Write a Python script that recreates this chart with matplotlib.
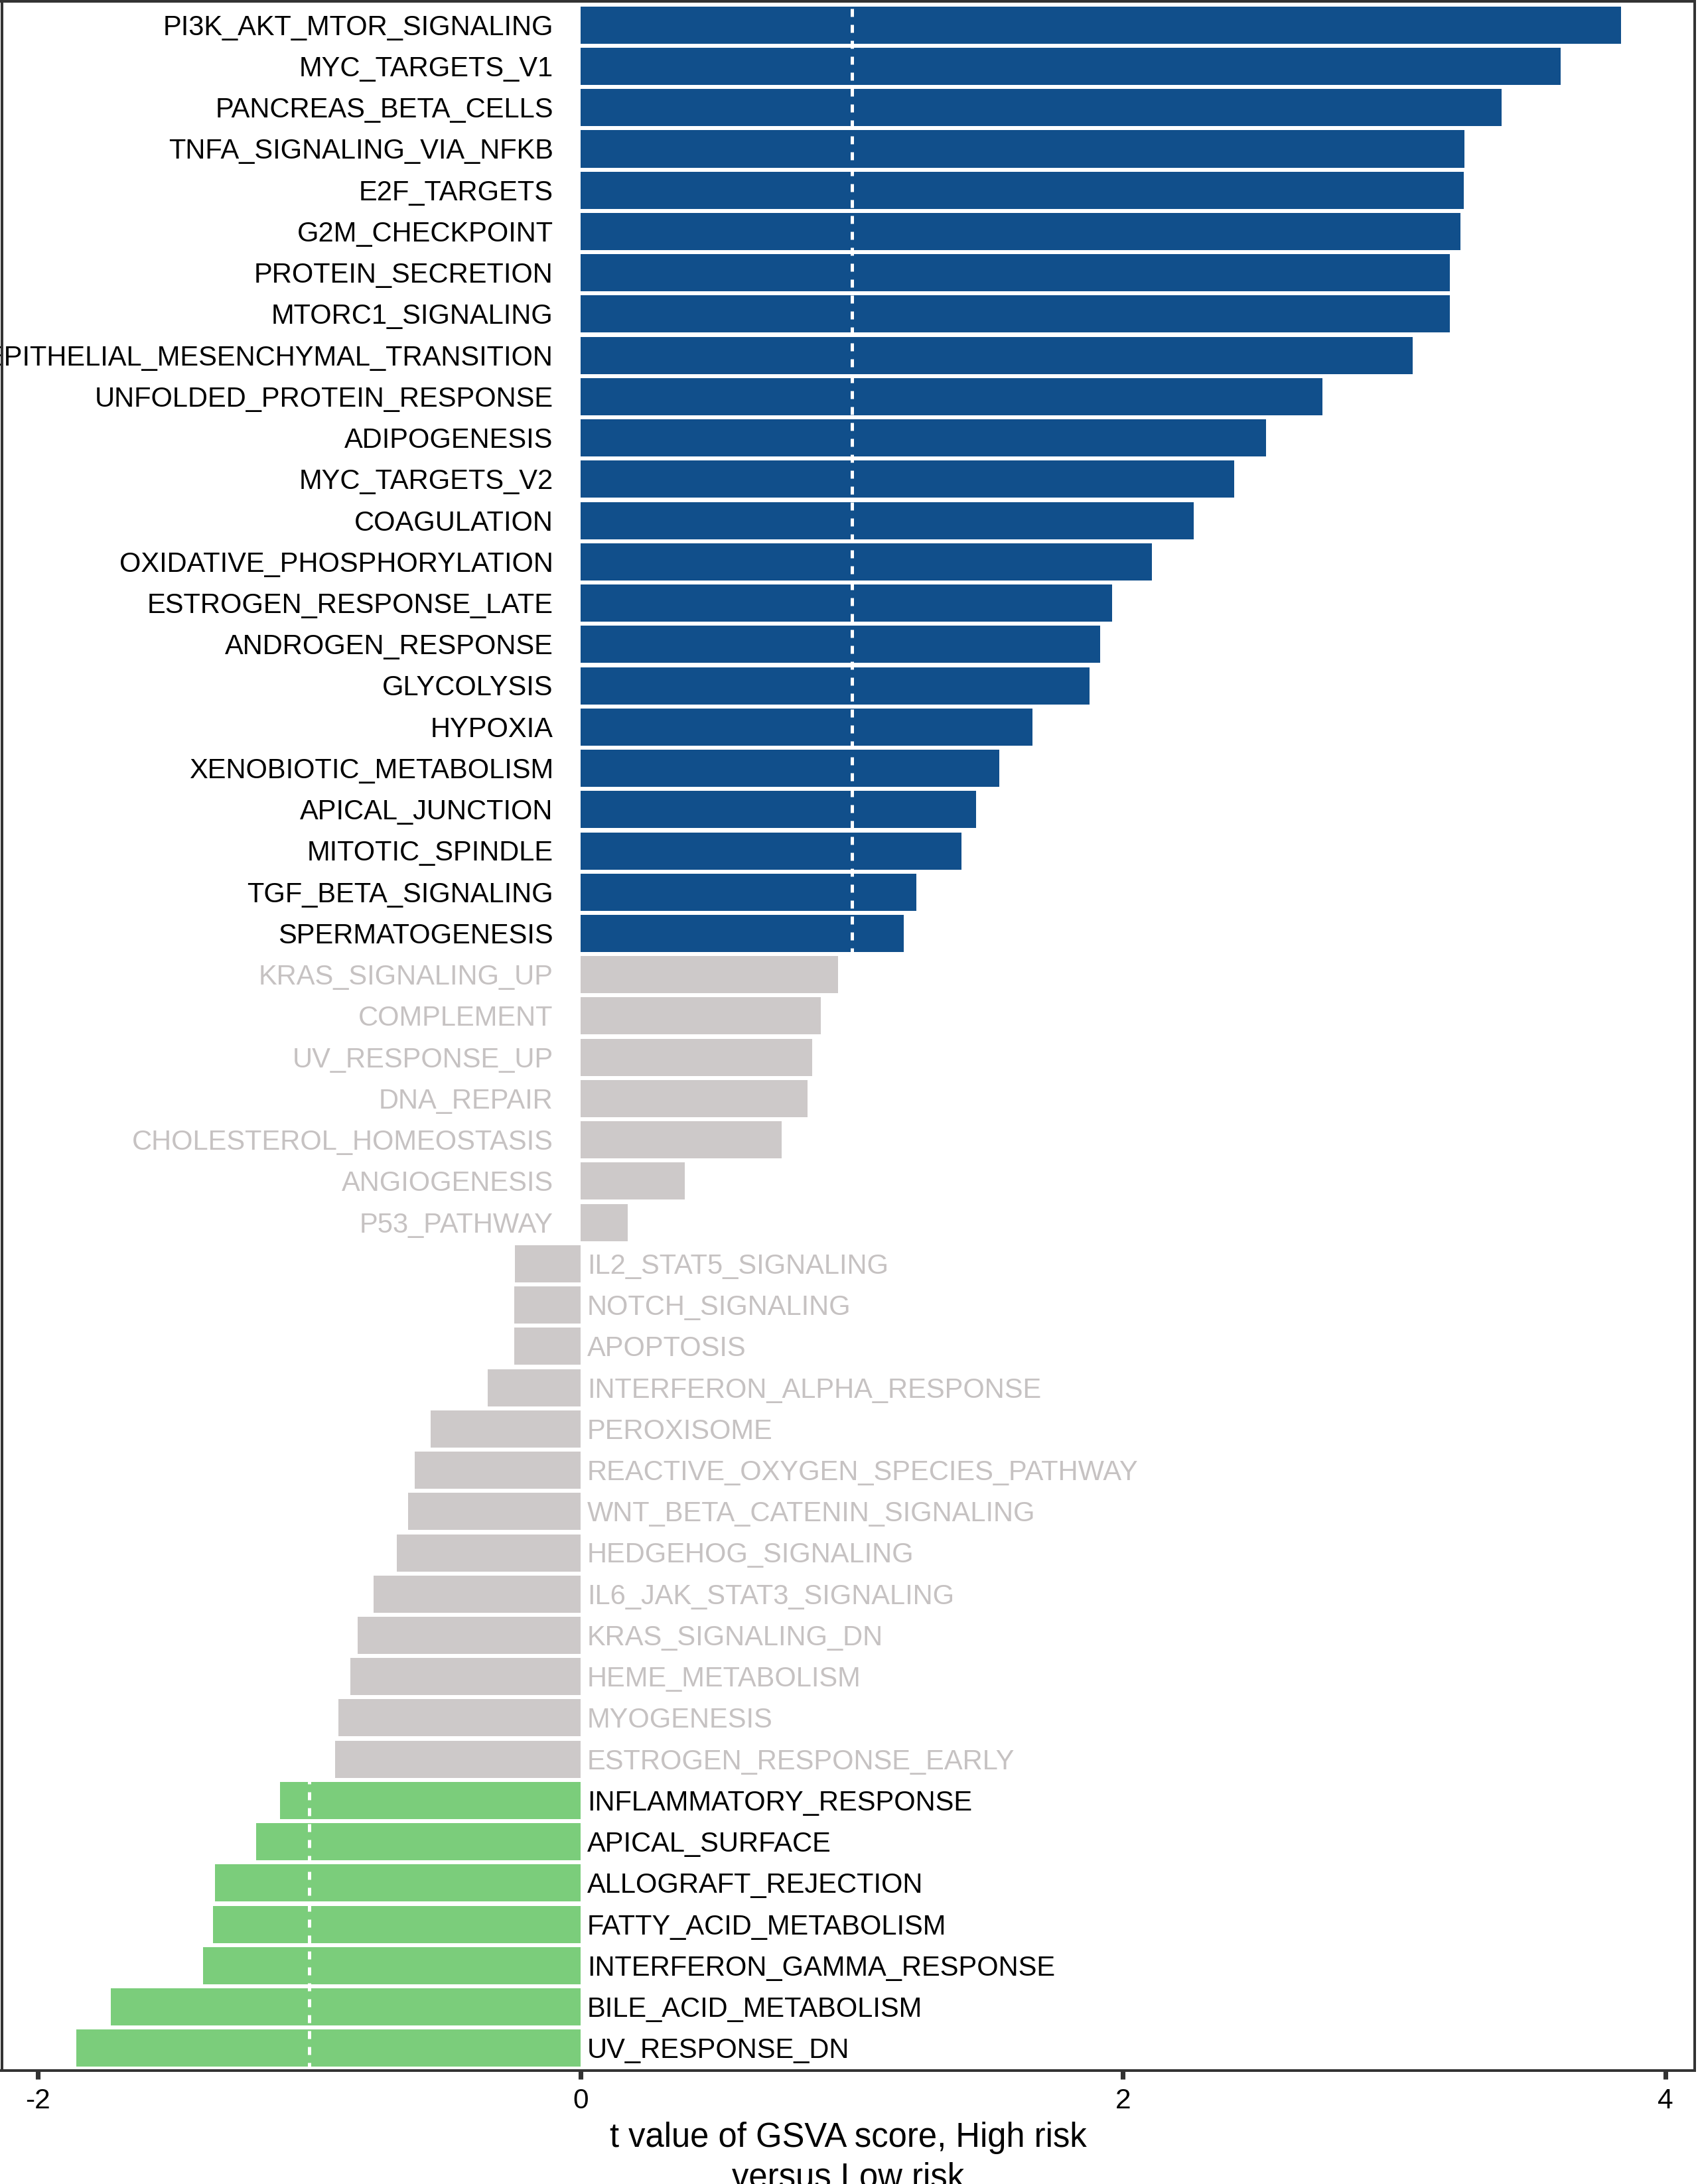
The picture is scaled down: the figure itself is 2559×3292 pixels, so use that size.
import matplotlib
matplotlib.use("Agg")
import matplotlib.pyplot as plt
import matplotlib.transforms as mtransforms
import numpy as np

plt.rcParams['font.family'] = ['Liberation Sans', 'DejaVu Sans']
plt.rcParams['axes.unicode_minus'] = False

# ---------------- data ----------------
pathways = [
    "PI3K_AKT_MTOR_SIGNALING", "MYC_TARGETS_V1", "PANCREAS_BETA_CELLS",
    "TNFA_SIGNALING_VIA_NFKB", "E2F_TARGETS", "G2M_CHECKPOINT",
    "PROTEIN_SECRETION", "MTORC1_SIGNALING", "EPITHELIAL_MESENCHYMAL_TRANSITION",
    "UNFOLDED_PROTEIN_RESPONSE", "ADIPOGENESIS", "MYC_TARGETS_V2",
    "COAGULATION", "OXIDATIVE_PHOSPHORYLATION", "ESTROGEN_RESPONSE_LATE",
    "ANDROGEN_RESPONSE", "GLYCOLYSIS", "HYPOXIA", "XENOBIOTIC_METABOLISM",
    "APICAL_JUNCTION", "MITOTIC_SPINDLE", "TGF_BETA_SIGNALING",
    "SPERMATOGENESIS", "KRAS_SIGNALING_UP", "COMPLEMENT", "UV_RESPONSE_UP",
    "DNA_REPAIR", "CHOLESTEROL_HOMEOSTASIS", "ANGIOGENESIS", "P53_PATHWAY",
    "IL2_STAT5_SIGNALING", "NOTCH_SIGNALING", "APOPTOSIS",
    "INTERFERON_ALPHA_RESPONSE", "PEROXISOME", "REACTIVE_OXYGEN_SPECIES_PATHWAY",
    "WNT_BETA_CATENIN_SIGNALING", "HEDGEHOG_SIGNALING", "IL6_JAK_STAT3_SIGNALING",
    "KRAS_SIGNALING_DN", "HEME_METABOLISM", "MYOGENESIS",
    "ESTROGEN_RESPONSE_EARLY", "INFLAMMATORY_RESPONSE", "APICAL_SURFACE",
    "ALLOGRAFT_REJECTION", "FATTY_ACID_METABOLISM", "INTERFERON_GAMMA_RESPONSE",
    "BILE_ACID_METABOLISM", "UV_RESPONSE_DN",
]
t_values = [
    3.836, 3.613, 3.396, 3.259, 3.257, 3.245, 3.205, 3.206, 3.068,
    2.735, 2.527, 2.410, 2.261, 2.108, 1.961, 1.917, 1.876, 1.666,
    1.545, 1.458, 1.406, 1.238, 1.192,
    0.951, 0.887, 0.855, 0.838, 0.743, 0.385, 0.174,
    -0.241, -0.243, -0.243, -0.342, -0.552, -0.610, -0.634, -0.676,
    -0.763, -0.820, -0.848, -0.891, -0.905,
    -1.108, -1.195, -1.346, -1.354, -1.392, -1.731, -1.857,
]
cutoff = 1.0
xticks = [-2, 0, 2, 4]
xlabel = "t value of GSVA score, High risk\nversus Low risk"

col_up = "#114F8B"
col_down = "#7BCD7B"
col_ns = "#CDC9C9"
txt_ns = "#C6C2C2"

# ---------------- figure ----------------
W, H = 2559, 3292
dpi = 300
fig = plt.figure(figsize=(W / dpi, H / dpi), dpi=dpi)

ax_l, ax_r, ax_t, ax_b = 2.5, 2554.0, 2.0, 3121.3
ax = fig.add_axes([ax_l / W, (H - ax_b) / H, (ax_r - ax_l) / W, (ax_b - ax_t) / H])

n = len(pathways)
vals = np.array(t_values)
ypos = np.arange(n)[::-1]
colors = [col_up if v > cutoff else (col_down if v < -cutoff else col_ns) for v in vals]

ax.barh(ypos, vals, height=0.9, color=colors, edgecolor='none', zorder=2)
for c in (-cutoff, cutoff):
    ax.axvline(c, color='white', lw=1.2, ls=(0, (2.4, 2.4)), zorder=3)

fs = 10.0
trans_txt = mtransforms.offset_copy(ax.transData, fig=fig, y=-0.358 * fs, units='points')
for name, v, y in zip(pathways, vals, ypos):
    tc = 'black' if abs(v) > cutoff else txt_ns
    if v > 0:
        ax.text(-0.1, y, name, ha='right', va='baseline', fontsize=fs, color=tc,
                transform=trans_txt, clip_on=False, zorder=4)
    else:
        ax.text(0.025, y, name, ha='left', va='baseline', fontsize=fs, color=tc,
                transform=trans_txt, clip_on=False, zorder=4)

ax.set_xlim(-2.1333, 4.1076)
ax.set_ylim(-0.545, n - 1 + 0.575)
ax.set_xticks(xticks)
ax.set_xticklabels([str(t) for t in xticks])
ax.set_yticks([])
ax.tick_params(axis='x', direction='out', length=3.1, width=1.7, color='#333333',
               pad=3.1, labelsize=10.2, labelcolor='black')
for s in ax.spines.values():
    s.set_color('#333333')
    s.set_linewidth(0.96)
    s.set_zorder(5)

ax.set_xlabel(xlabel, fontsize=12.2, linespacing=1.30, color='black')
ax.xaxis.set_label_coords(0.5, -(3198 - ax_b) / (ax_b - ax_t))

fig.savefig("out.png", dpi=dpi, facecolor='white')
